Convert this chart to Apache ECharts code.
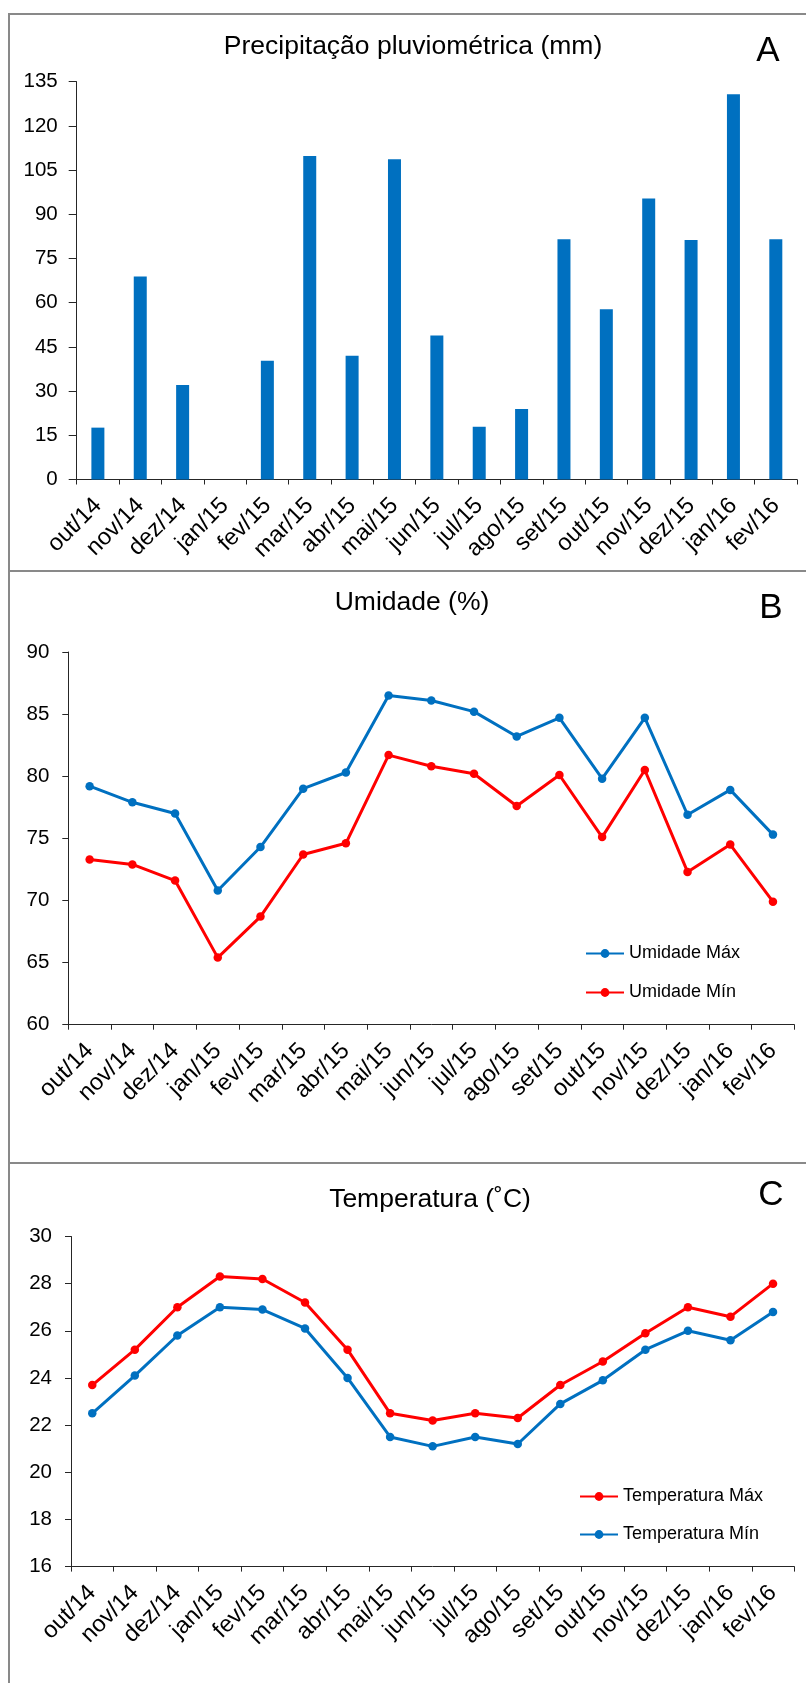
<!DOCTYPE html>
<html>
<head>
<meta charset="utf-8">
<script src="https://cdn.jsdelivr.net/npm/echarts@6/dist/echarts.min.js"></script>
<style>
  html, body { margin: 0; padding: 0; background: #fff; }
  #chart { width: 806px; height: 1683px; }
</style>
</head>
<body>
<div id="chart"></div>
<script>
// ---- data ----
const categories = ['out/14','nov/14','dez/14','jan/15','fev/15','mar/15','abr/15','mai/15','jun/15','jul/15','ago/15','set/15','out/15','nov/15','dez/15','jan/16','fev/16'];
const precipitacao = [17.6, 68.9, 32.1, 0, 40.3, 109.8, 42.0, 108.7, 48.9, 17.9, 23.9, 81.5, 57.8, 95.4, 81.3, 130.7, 81.5];
const umidadeMax = [79.2, 77.9, 77.0, 70.8, 74.3, 79.0, 80.3, 86.5, 86.1, 85.2, 83.2, 84.7, 79.8, 84.7, 76.9, 78.9, 75.3];
const umidadeMin = [73.3, 72.9, 71.6, 65.4, 68.7, 73.7, 74.6, 81.7, 80.8, 80.2, 77.6, 80.1, 75.1, 80.5, 72.3, 74.5, 69.9];
const temperaturaMax = [23.7, 25.2, 27.0, 28.3, 28.2, 27.2, 25.2, 22.5, 22.2, 22.5, 22.3, 23.7, 24.7, 25.9, 27.0, 26.6, 28.0];
const temperaturaMin = [22.5, 24.1, 25.8, 27.0, 26.9, 26.1, 24.0, 21.5, 21.1, 21.5, 21.2, 22.9, 23.9, 25.2, 26.0, 25.6, 26.8];
const titles = ['Precipitação pluviométrica (mm)', 'Umidade (%)', 'Temperatura (˚C)'];
const panelLetters = ['A', 'B', 'C'];

// ---- styling ----
const FONT = 'Liberation Sans, Arial, sans-serif';
const BLUE = '#0070C0';
const RED = '#FF0000';
const AXIS = '#262626';

const chart = echarts.init(document.getElementById('chart'), null, { renderer: 'canvas' });

function xAxisFor(gridIndex) {
  return {
    type: 'category', gridIndex, data: categories, boundaryGap: true,
    axisLine: { lineStyle: { color: AXIS, width: 1 } },
    axisTick: { show: true, length: 5, lineStyle: { color: AXIS } },
    axisLabel: {
      rotate: 45, margin: 22.5, color: '#000', fontSize: 23.5, fontFamily: FONT,
      interval: 0, align: 'right', verticalAlign: 'middle'
    },
    splitLine: { show: false }
  };
}
function yAxisFor(gridIndex, min, max, interval, tickLen) {
  return {
    type: 'value', gridIndex, min, max, interval,
    axisLine: { show: true, lineStyle: { color: AXIS, width: 1 } },
    axisTick: { show: true, length: tickLen, lineStyle: { color: AXIS } },
    axisLabel: { margin: 19, color: '#000', fontSize: 20.5, fontFamily: FONT },
    splitLine: { show: false }
  };
}
function lineSeries(name, data, color, idx) {
  return {
    name, type: 'line', data, xAxisIndex: idx, yAxisIndex: idx,
    symbol: 'circle', symbolSize: 8.5,
    lineStyle: { color, width: 3 },
    itemStyle: { color },
    emphasis: { disabled: true }
  };
}

const titleStyle = { fontSize: 26.5, fontWeight: 'normal', fontFamily: FONT, color: '#000' };
const letterStyle = { fontSize: 35, fontWeight: 'normal', fontFamily: FONT, color: '#000' };
const legendText = { fontSize: 18, fontFamily: FONT, color: '#000' };

const option = {
  animation: false,
  backgroundColor: '#fff',
  title: [
    { text: titles[0], left: 413, top: 33, textAlign: 'center', padding: 0, textStyle: titleStyle },
    { text: titles[1], left: 412, top: 589, textAlign: 'center', padding: 0, textStyle: titleStyle },
    { text: titles[2], left: 430, top: 1186, textAlign: 'center', padding: 0, textStyle: titleStyle },
    { text: panelLetters[0], left: 768, top: 34, textAlign: 'center', padding: 0, textStyle: letterStyle },
    { text: panelLetters[1], left: 771, top: 591, textAlign: 'center', padding: 0, textStyle: letterStyle },
    { text: panelLetters[2], left: 771, top: 1178, textAlign: 'center', padding: 0, textStyle: letterStyle }
  ],
  legend: [
    {
      data: ['Umidade Máx', 'Umidade Mín'], orient: 'vertical', left: 585, top: 944.5,
      itemWidth: 38, itemHeight: 11, itemGap: 21, padding: 0,
      textStyle: legendText
    },
    {
      data: ['Temperatura Máx', 'Temperatura Mín'], orient: 'vertical', left: 579, top: 1487.5,
      itemWidth: 38, itemHeight: 11, itemGap: 20, padding: 0,
      textStyle: legendText
    }
  ],
  grid: [
    { left: 76.7, top: 81.7, width: 720.3, height: 397.8 },
    { left: 68.3, top: 652, width: 726, height: 372.7 },
    { left: 71, top: 1236.5, width: 723.3, height: 330.1 }
  ],
  xAxis: [xAxisFor(0), xAxisFor(1), xAxisFor(2)],
  yAxis: [
    yAxisFor(0, 0, 135, 15, 8),
    yAxisFor(1, 60, 90, 5, 6),
    yAxisFor(2, 16, 30, 2, 6)
  ],
  series: [
    {
      name: 'Precipitação', type: 'bar', data: precipitacao, xAxisIndex: 0, yAxisIndex: 0,
      barWidth: 13, itemStyle: { color: BLUE }, emphasis: { disabled: true }
    },
    lineSeries('Umidade Máx', umidadeMax, BLUE, 1),
    lineSeries('Umidade Mín', umidadeMin, RED, 1),
    lineSeries('Temperatura Máx', temperaturaMax, RED, 2),
    lineSeries('Temperatura Mín', temperaturaMin, BLUE, 2)
  ],
  graphic: [
    { type: 'rect', shape: { x: 9, y: 14, width: 820, height: 557 }, style: { fill: 'none', stroke: '#898989', lineWidth: 2 }, silent: true, z: -1 },
    { type: 'rect', shape: { x: 9, y: 571, width: 820, height: 592 }, style: { fill: 'none', stroke: '#898989', lineWidth: 2 }, silent: true, z: -1 },
    { type: 'rect', shape: { x: 9, y: 1163, width: 820, height: 560 }, style: { fill: 'none', stroke: '#898989', lineWidth: 2 }, silent: true, z: -1 }
  ]
};
chart.setOption(option);
</script>
</body>
</html>
